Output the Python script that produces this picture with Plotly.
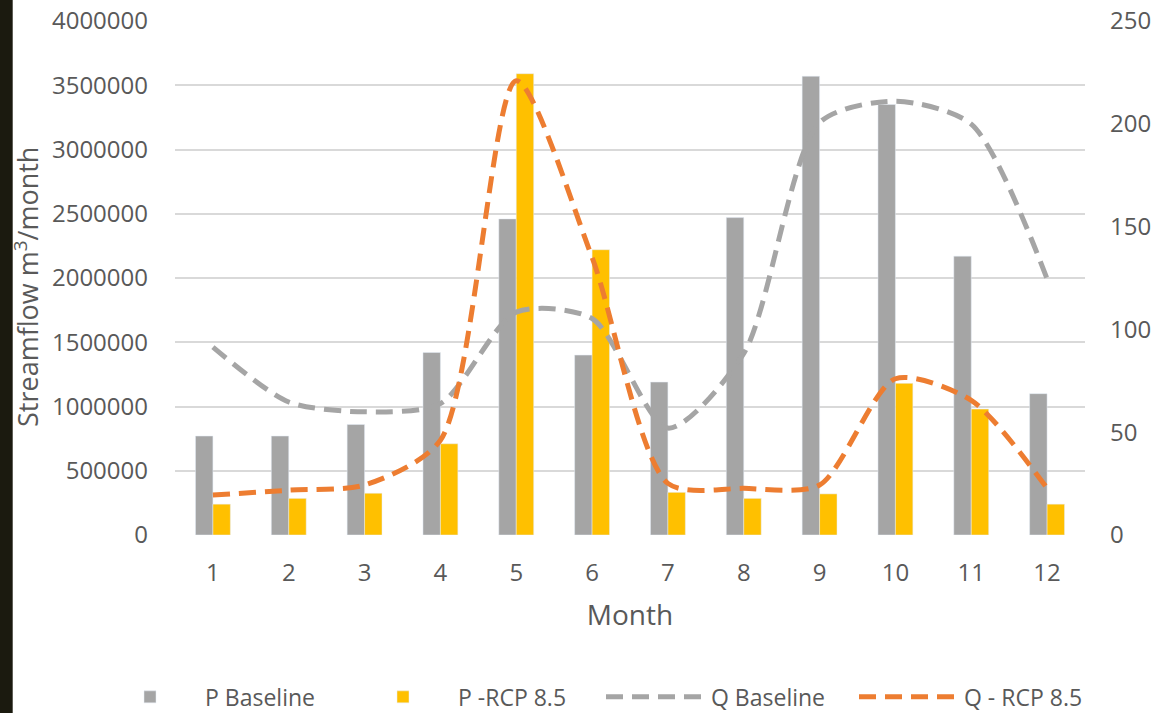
import plotly.graph_objects as go

months = [1, 2, 3, 4, 5, 6, 7, 8, 9, 10, 11, 12]
p_baseline = [770000, 770000, 860000, 1420000, 2460000, 1400000, 1190000, 2470000, 3570000, 3350000, 2170000, 1100000]
p_rcp85 = [240000, 285000, 325000, 710000, 3590000, 2220000, 332000, 285000, 320000, 1180000, 980000, 240000]
q_baseline = [91.4, 64.7, 59.9, 63.9, 108.4, 105.3, 52.0, 88.3, 200.6, 211.0, 199.8, 124.6]
q_rcp85 = [19.4, 21.8, 24.3, 46.1, 220.9, 135.0, 25.1, 22.7, 24.3, 76.0, 65.5, 22.7]

GRAY = "#A5A5A5"
YELLOW = "#FFC000"
ORANGE = "#ED7D31"
TXT = "#595959"
FONT = "Open Sans"

fig = go.Figure()
fig.add_trace(go.Bar(x=months, y=p_baseline, name="P Baseline", marker_color=GRAY, yaxis="y"))
fig.add_trace(go.Bar(x=months, y=p_rcp85, name="P -RCP 8.5", marker_color=YELLOW, yaxis="y"))
fig.add_trace(go.Scatter(x=months, y=q_baseline, name="Q Baseline", mode="lines", yaxis="y2",
                         line=dict(color=GRAY, width=5, dash="17px,9px", shape="spline", smoothing=0.75)))
fig.add_trace(go.Scatter(x=months, y=q_rcp85, name="Q - RCP 8.5", mode="lines", yaxis="y2",
                         line=dict(color=ORANGE, width=5, dash="17px,9px", shape="spline", smoothing=0.75)))

fig.update_layout(
    width=1158, height=713,
    margin=dict(l=175, r=73, t=21, b=178, autoexpand=False),
    paper_bgcolor="white", plot_bgcolor="white",
    font=dict(family=FONT, color=TXT, size=22),
    barmode="group", bargap=0.54, bargroupgap=0,
    showlegend=True,
    legend=dict(orientation="h", x=(95 - 175) / 910, xanchor="left", y=-0.315, yanchor="middle",
                font=dict(size=23, color=TXT, family=FONT), entrywidth=138, entrywidthmode="pixels",
                itemwidth=100, bgcolor="rgba(0,0,0,0)"),
    xaxis=dict(tickmode="array", tickvals=months, ticktext=[str(m) for m in months],
               range=[0.5, 12.5], showgrid=False, showline=False, zeroline=False, ticks="",
               tickfont=dict(size=24, color=TXT), ticklabelstandoff=21,
               title=dict(text="Month", font=dict(size=28, color=TXT), standoff=18)),
    yaxis=dict(range=[0, 4000000], dtick=500000, tickformat="d", showgrid=True, gridcolor="#D9D9D9",
               gridwidth=1.5, zeroline=False, showline=False, ticks="",
               tickfont=dict(size=24, color=TXT), ticklabelstandoff=26),
    yaxis2=dict(range=[0, 250], dtick=50, overlaying="y", side="right", showgrid=False,
                zeroline=False, showline=False, ticks="", tickfont=dict(size=24, color=TXT),
                ticklabelstandoff=24),
    annotations=[dict(text="Streamflow m<sup>3</sup>/month", xref="paper", yref="paper",
                      x=(27 - 175) / 910, y=0.4825, textangle=-90, showarrow=False,
                      xanchor="center", yanchor="middle", font=dict(size=27, color=TXT, family=FONT))],
    shapes=[dict(type="rect", xref="paper", yref="paper", x0=-0.25, x1=(12.7 - 175) / 910,
                 y0=-0.5, y1=1.2, fillcolor="#1B1A0F", line=dict(width=0), layer="below")],
)

fig.write_html("out.html", config={"displayModeBar": False},
               post_script="document.body.style.margin='0';document.body.style.overflow='hidden';")
